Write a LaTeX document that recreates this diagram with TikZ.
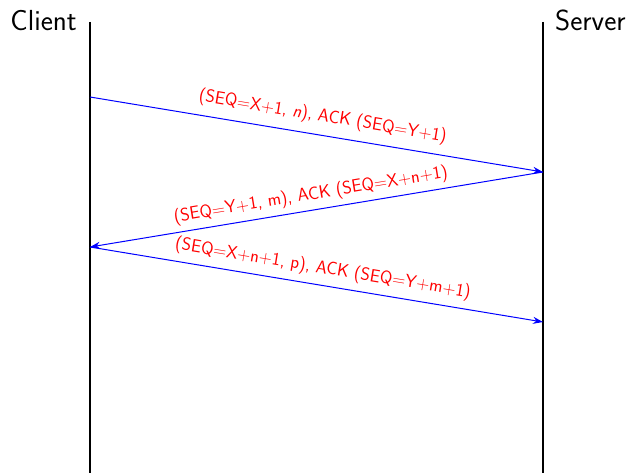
\documentclass[tikz,border=0pt]{standalone}
\usetikzlibrary{arrows.meta}
\begin{document}
\begin{tikzpicture}[x=1pt,y=1pt,
  lifeline/.style={line width=2pt,black},
  msg/.style={blue,line width=1pt,-{Stealth[length=10pt,width=7pt]}},
  lbl/.style={red,font=\sffamily\fontsize{18}{20}\selectfont,sloped,above},
  who/.style={font=\sffamily\fontsize{29}{33}\selectfont,inner sep=0pt}]
\useasboundingbox (0,0) rectangle (631,-473);
\coordinate (ctop) at (90,-22);
\coordinate (cbot) at (90,-473);
\coordinate (stop) at (543,-22);
\coordinate (sbot) at (543,-473);
\draw[lifeline] (ctop) -- (cbot);
\draw[lifeline] (stop) -- (sbot);
\node[who,anchor=base east] (client) at (77,-31) {Client};
\node[who,anchor=base west] (server) at (555,-31) {Server};
\coordinate (c1) at (90,-97);
\coordinate (s1) at (543,-172);
\coordinate (c2) at (90,-247);
\coordinate (s2) at (543,-322);
\draw[msg] (c1) -- node[lbl,pos=0.507,inner sep=9pt] {(SEQ=X+1, \textsl{n}), ACK (SEQ=Y+1)} (s1);
\draw[msg] (s1) -- node[lbl,pos=0.507,inner sep=5.5pt] {(SEQ=Y+1, m), ACK (SEQ=X+n+1)} (c2);
\draw[msg] (c2) -- node[lbl,pos=0.508,inner sep=7pt] {(SEQ=X+n+1, p), ACK (SEQ=Y+m+1)} (s2);
\end{tikzpicture}
\end{document}
